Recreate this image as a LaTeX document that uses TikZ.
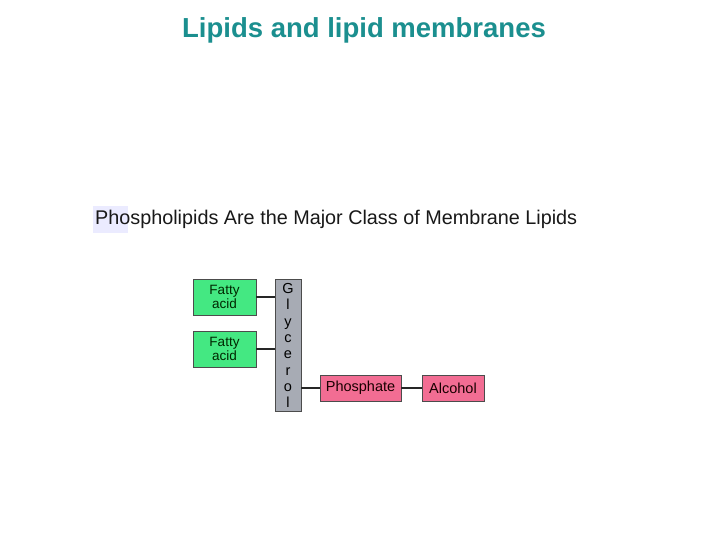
\documentclass[tikz,border=0pt]{standalone}
\usepackage{fontspec}
\setmainfont{Liberation Sans}
\usepackage{tikz}
\usetikzlibrary{positioning}

\definecolor{titleteal}{HTML}{1B8F8F}
\definecolor{fagreen}{HTML}{44E882}
\definecolor{glgray}{HTML}{A7ABB4}
\definecolor{phpink}{HTML}{F26D93}

\tikzset{
  fabox/.style={draw=black!70, fill=fagreen, minimum width=63pt, minimum height=36pt, inner sep=0pt, align=center, font=\fontsize{13.5}{14.5}\selectfont, text=black!85!green},
  pbox/.style={draw=black!70, fill=phpink, minimum height=26pt, inner sep=0pt, font=\fontsize{14.5}{14.5}\selectfont, text=black!90!red},
  link/.style={line width=1.1pt, black!85}
}

\begin{document}
\begin{tikzpicture}[x=1pt, y=-1pt]
			\useasboundingbox (0,0) rectangle (720,540);
			\fill[white] (0,0) rectangle (720,540);
			
			\node[font=\bfseries\fontsize{27.5}{27.5}\selectfont, text=titleteal] (title) at (364,30) {Lipids and lipid membranes};
			
			\fill[blue!8] (93,206) rectangle (128,233); % sfondo Phos
			\node[font=\fontsize{19.8}{19.8}\selectfont, text=black!90, anchor=west, inner sep=0pt] (sub) at (95,219) {Phospholipids Are the Major Class of Membrane Lipids};
			
			\node[fabox] (fa1) at (224.5,297) {Fatty\\acid};
			\node[fabox] (fa2) at (224.5,349) {Fatty\\acid};
			
			\node[draw=black!70, fill=glgray, minimum width=26pt, minimum height=132pt, inner sep=0pt, align=center, font=\fontsize{14.5}{16.3}\selectfont] (glyc) at (288,345.5) {G\\l\\y\\c\\e\\r\\o\\l};
			
			\node[pbox, minimum width=81pt] (phos) at (360.5,388) {Phosphate};
			\node[pbox, minimum width=62pt] (alc) at (453,388) {Alcohol};
			
			\draw[link] (fa1.east) -- (fa1.east -| glyc.west); % acido 1 - glicerolo
			\draw[link] (fa2.east) -- (fa2.east -| glyc.west); % acido 2 - glicerolo
			\draw[link] (phos.west -| glyc.east) -- (phos.west); % glicerolo - fosfato
			\draw[link] (phos.east) -- (alc.west); % fosfato - alcol
\end{tikzpicture}
\end{document}
